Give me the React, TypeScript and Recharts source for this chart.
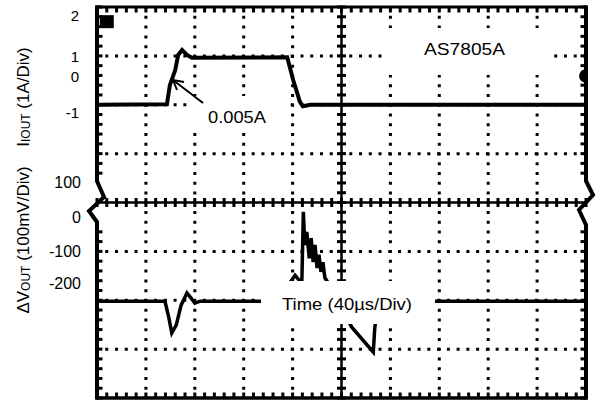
import {
  LineChart,
  Line,
  XAxis,
  YAxis,
  ReferenceLine,
  ReferenceDot,
} from "recharts";

// scope trace, time in divisions (40µs/Div), level in divisions
const currentTime = [0, 1.43, 1.49, 1.6, 1.66, 1.74, 1.84, 1.94, 3.89, 4.01, 4.15, 4.21, 4.36, 10];
const currentLevel = [2.0, 2.01, 2.4, 2.71, 3.02, 3.12, 3.02, 2.96, 2.97, 2.51, 2.06, 1.97, 2.0, 2.0];

const voltageTime = [
  0, 1.39, 1.47, 1.53, 1.62, 1.72, 1.84, 1.92, 2.0, 2.11,
  3.84, 3.95, 4.05, 4.15, 4.19, 4.22, 4.25, 4.29, 4.34, 4.38,
  4.42, 4.46, 4.5, 4.54, 4.58, 4.62, 4.66, 4.72,
  5.21, 5.65, 5.68, 5.75, 5.85, 10,
];
const voltageLevel = [
  -2.02, -2.02, -2.36, -2.67, -2.51, -2.1, -1.85, -1.95, -2.06, -2.02,
  -2.02, -1.63, -1.49, -1.61, -1.59, -0.19, -0.87, -0.6, -1.14, -0.73,
  -1.22, -0.87, -1.34, -1.07, -1.42, -1.22, -1.54, -1.63,
  -2.55, -3.06, -2.57, -2.06, -2.02, -2.02,
];

const xGridDivs = [1, 2, 3, 4, 6, 7, 8, 9];
const yGridDivs = [-3, -2, -1, 1, 2, 3];

const currentTickLabels = ["2", "1", "0", "-1"];
const voltageTickLabels = ["100", "0", "-100", "-200"];

const groundMarker = { t: 0.2, level: 3.7 };
const triggerMarker = { t: 9.9, level: 2.59 };

const currentData = currentTime.map((t, i) => ({ t, v: currentLevel[i] }));
const voltageData = voltageTime.map((t, i) => ({ t, v: voltageLevel[i] }));

const FONT = "'Liberation Sans', Arial, sans-serif";
const DOTS = "3 6.76";

// plot box (must match the chart margins below)
const LEFT = 97;
const RIGHT = 586;
const TOP = 7;
const BOTTOM = 398;
const divW = (RIGHT - LEFT) / 10;
const divH = (BOTTOM - TOP) / 8;
const midX = LEFT + 5 * divW;
const midY = TOP + 4 * divH;

// minor tick marks, 5 per division, drawn as small rects
type Box = { x: number; y: number; w: number; h: number };

function tickBoxes(): Box[] {
  const out: Box[] = [];
  const sx = divW / 5;
  const sy = divH / 5;
  for (let i = 0; i <= 50; i++) {
    const x = LEFT + i * sx - 1.5;
    out.push({ x, y: midY - 4.5, w: 3, h: 9 });
    out.push({ x, y: TOP, w: 3, h: 5.5 });
    out.push({ x, y: BOTTOM - 5.5, w: 3, h: 5.5 });
  }
  for (let i = 0; i <= 40; i++) {
    const y = TOP + i * sy - 1.5;
    out.push({ x: midX - 4.5, y, w: 9, h: 3 });
    if (y < 178 || y > 224) {
      out.push({ x: LEFT, y, w: 5.5, h: 3 });
      out.push({ x: RIGHT - 5.5, y, w: 5.5, h: 3 });
    }
  }
  return out;
}

export default function App() {
  const currentTickY = [20.7, 62, 82, 118];
  const voltageTickY = [188, 223, 257, 289];
  const boxes = tickBoxes();

  return (
    <div style={{ position: "relative", width: 600, height: 404, background: "#fff" }}>
      <style>{`body{margin:0}`}</style>
      <LineChart
        width={600}
        height={404}
        margin={{ top: TOP, right: 600 - RIGHT, bottom: 404 - BOTTOM, left: LEFT }}
      >
        <XAxis type="number" dataKey="t" domain={[0, 10]} hide allowDataOverflow />
        <YAxis type="number" domain={[-4, 4]} hide allowDataOverflow />

        {xGridDivs.map((d) => (
          <ReferenceLine
            key={`gx${d}`}
            x={d}
            stroke="#000"
            strokeWidth={3}
            strokeDasharray={DOTS}
            strokeDashoffset={1.5}
          />
        ))}
        {yGridDivs.map((d) => (
          <ReferenceLine
            key={`gy${d}`}
            y={d}
            stroke="#000"
            strokeWidth={3}
            strokeDasharray={DOTS}
            strokeDashoffset={1.5}
          />
        ))}

        <ReferenceLine x={5} stroke="#000" strokeWidth={2.5} />
        <ReferenceLine y={0} stroke="#000" strokeWidth={2.5} />

        <ReferenceDot
          x={groundMarker.t}
          y={groundMarker.level}
          shape={(p: any) => (
            <rect x={p.cx - 7} y={p.cy - 6.5} width={14} height={13} fill="#000" />
          )}
        />
        <ReferenceDot
          x={triggerMarker.t}
          y={triggerMarker.level}
          shape={(p: any) => (
            <path
              d={`M${p.cx + 5},${p.cy - 7} A7,7 0 0 0 ${p.cx + 5},${p.cy + 7} Z`}
              fill="#000"
            />
          )}
        />

        <Line
          data={currentData}
          dataKey="v"
          type="linear"
          stroke="#000"
          strokeWidth={4}
          dot={false}
          isAnimationActive={false}
        />
        <Line
          data={voltageData}
          dataKey="v"
          type="linear"
          stroke="#000"
          strokeWidth={3.5}
          dot={false}
          isAnimationActive={false}
        />
      </LineChart>

      <svg
        width={600}
        height={404}
        style={{ position: "absolute", left: 0, top: 0, pointerEvents: "none" }}
        fontFamily={FONT}
      >
        {/* minor ticks on frame and centre cross */}
        {boxes.map((b, i) => (
          <rect key={i} x={b.x} y={b.y} width={b.w} height={b.h} fill="#000" />
        ))}

        {/* frame with axis breaks */}
        <line x1={LEFT - 1.5} y1={TOP} x2={RIGHT + 1.5} y2={TOP} stroke="#000" strokeWidth={3} />
        <line x1={LEFT - 1.5} y1={BOTTOM} x2={RIGHT + 1.5} y2={BOTTOM} stroke="#000" strokeWidth={3.5} />
        <path
          d={`M${LEFT},${TOP - 1.5} V181 L104,197 L89,211 L${LEFT},222 V${BOTTOM + 1.5}`}
          fill="none"
          stroke="#000"
          strokeWidth={4}
        />
        <path
          d={`M${RIGHT},${TOP - 1.5} V181 L593,195 L579,210 L${RIGHT},225 V${BOTTOM + 1.5}`}
          fill="none"
          stroke="#000"
          strokeWidth={4}
        />

        {/* annotation boxes */}
        <rect x={385} y={28} width={167} height={47} fill="#fff" />
        <text x={424} y={55} fontSize={17} textLength={81} lengthAdjust="spacingAndGlyphs">
          AS7805A
        </text>

        <rect x={193} y={96} width={97} height={36} fill="#fff" />
        <text x={208} y={123} fontSize={17} textLength={58} lengthAdjust="spacingAndGlyphs">
          0.005A
        </text>
        <path d="M173,80 L203,103" stroke="#000" strokeWidth={2} fill="none" />
        <path d="M177,90 L173,80 L184,82" stroke="#000" strokeWidth={2} fill="none" />

        <rect x={261} y={281} width={174} height={43} fill="#fff" />
        <text x={282} y={310} fontSize={17} textLength={130} lengthAdjust="spacingAndGlyphs">
          Time (40µs/Div)
        </text>

        {/* tick labels */}
        {currentTickLabels.map((s, i) => (
          <text key={`cl${i}`} x={79} y={currentTickY[i]} fontSize={15} textAnchor="end">
            {s}
          </text>
        ))}
        {voltageTickLabels.map((s, i) => (
          <text key={`vl${i}`} x={81} y={voltageTickY[i]} fontSize={16} textAnchor="end">
            {s}
          </text>
        ))}

        {/* axis titles */}
        <text x={29} y={97} fontSize={17} textAnchor="middle" transform="rotate(-90 29 97)">
          I
          <tspan fontSize={12} dy={1}>IOUT</tspan>
          <tspan dy={-1}> (1A/Div)</tspan>
        </text>
        <text x={29} y={240} fontSize={17} textAnchor="middle" transform="rotate(-90 29 240)">
          ΔV
          <tspan fontSize={12} dy={1}>OUT</tspan>
          <tspan dy={-1}> (100mV/Div)</tspan>
        </text>
      </svg>
    </div>
  );
}
